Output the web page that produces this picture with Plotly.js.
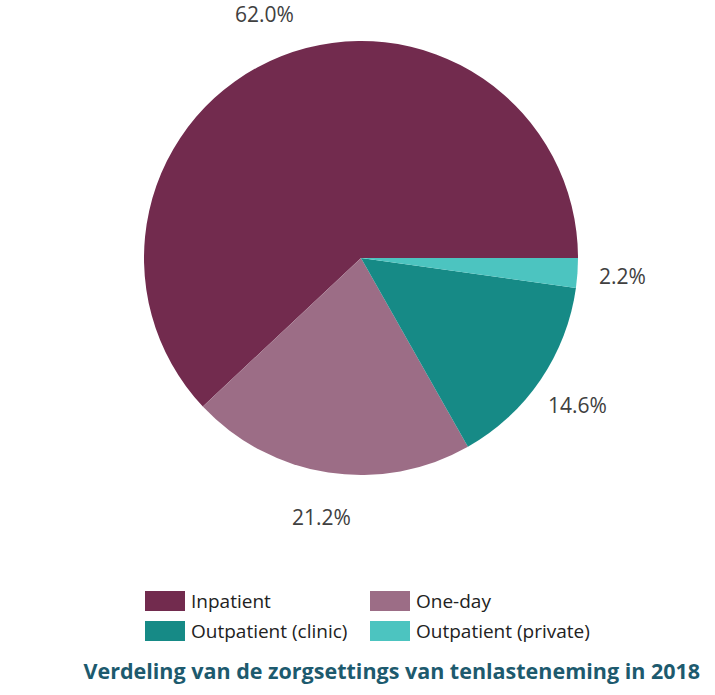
<!DOCTYPE html>
<html><head><meta charset="utf-8">
<script src="https://cdn.plot.ly/plotly-3.0.1.min.js"></script>
<style>html,body{margin:0;padding:0;background:#fff}</style>
</head><body><div id="chart" style="width:715px;height:695px"></div>
<script>
const labels = ["Inpatient", "One-day", "Outpatient (clinic)", "Outpatient (private)"];
const values = [62.0, 21.2, 14.6, 2.2];
const colors = ["#722B4E", "#9C6D86", "#168A86", "#4CC4C0"];

const W = 715, H = 695;
const cx = 361, cy = 258, rad = 217;
const dom = {x: [(cx - rad) / W, (cx + rad) / W], y: [(H - cy - rad) / H, (H - cy + rad) / H]};

const total = values.reduce((a, b) => a + b, 0);
// first slice starts at 3 o'clock and runs counterclockwise
const rotation = 90 - 360 * values[0] / total;

const annotations = [];
const shapes = [];
let acc = 0;
const labelR = 262;
values.forEach((v, i) => {
  const mid = (acc + v / 2) / total * 2 * Math.PI;
  acc += v;
  annotations.push({
    xref: 'paper', yref: 'paper',
    x: (cx + labelR * Math.cos(mid)) / W,
    y: (H - cy + labelR * Math.sin(mid)) / H,
    text: v.toFixed(1) + '%', showarrow: false,
    font: {family: 'Open Sans, sans-serif', size: 21, color: '#404040'},
    xanchor: 'center', yanchor: 'middle'
  });
});

// two-column legend with wide swatches, built from labels/colors
const legX = 145, legY = 601, colW = 225, rowH = 30, swW = 40, swH = 20;
labels.forEach((lab, i) => {
  const col = i % 2, row = Math.floor(i / 2);
  const x0 = legX + col * colW, yc = legY + row * rowH;
  shapes.push({type: 'rect', xref: 'paper', yref: 'paper',
    x0: x0 / W, x1: (x0 + swW) / W, y0: (H - yc - swH / 2) / H, y1: (H - yc + swH / 2) / H,
    fillcolor: colors[i], line: {width: 0}});
  annotations.push({xref: 'paper', yref: 'paper', x: (x0 + swW + 4) / W, y: (H - yc) / H,
    text: lab, showarrow: false, xanchor: 'left', yanchor: 'middle',
    font: {family: 'Open Sans, sans-serif', size: 19, color: '#222'}});
});

Plotly.newPlot('chart', [{
  type: 'pie', labels: labels, values: values, sort: false,
  direction: 'counterclockwise', rotation: rotation,
  marker: {colors: colors, line: {width: 0}},
  textinfo: 'none', hoverinfo: 'label+percent',
  domain: dom
}], {
  width: W, height: H,
  margin: {l: 0, r: 0, t: 0, b: 0},
  paper_bgcolor: '#fff',
  showlegend: false,
  title: {text: '<b>Verdeling van de zorgsettings van tenlasteneming in 2018</b>',
    x: 0.548, xanchor: 'center', y: 0.034, yanchor: 'middle', yref: 'paper',
    font: {family: 'Open Sans, sans-serif', size: 21.5, color: '#1D5A6E'}},
  annotations: annotations,
  shapes: shapes
}, {displayModeBar: false});
</script></body></html>
